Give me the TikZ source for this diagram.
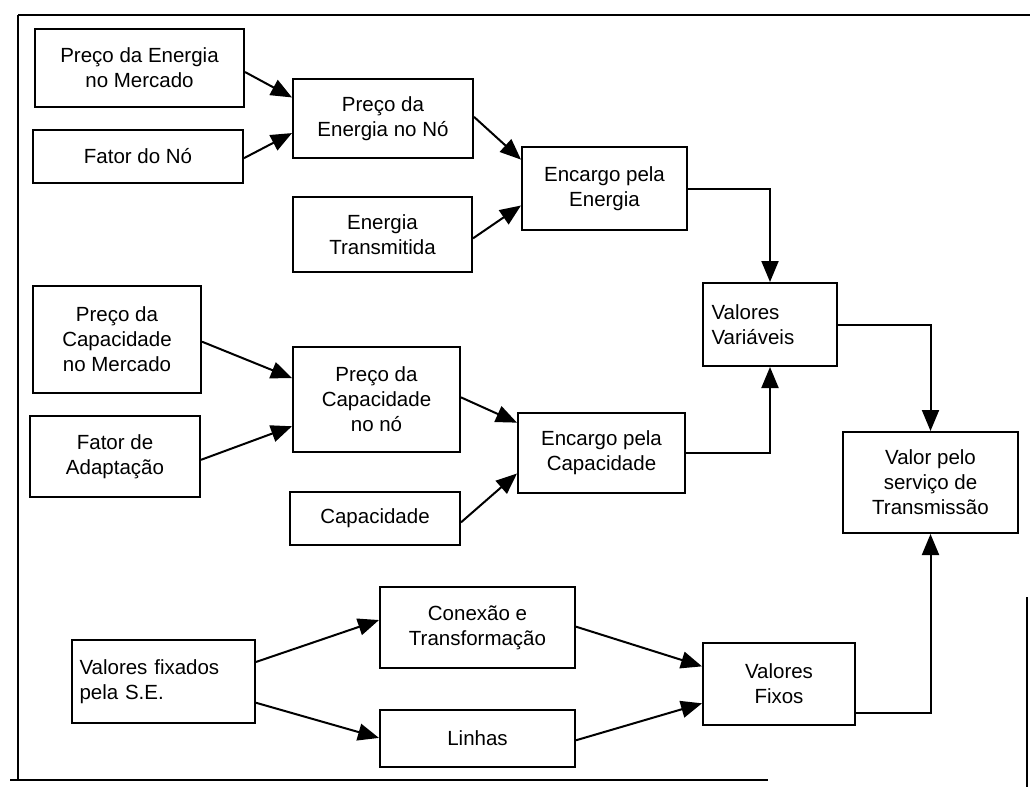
\documentclass[tikz,border=0pt]{standalone}
\usepackage{fontspec}
\setmainfont{Liberation Sans}
\usetikzlibrary{arrows.meta,calc}
\tikzset{
  box/.style={draw, line width=2pt, align=center, inner sep=0pt,
    font=\fontsize{20.5}{25}\selectfont},
  leftbox/.style={box, align=left, text width=#1},
  link/.style={line width=2pt, -{Triangle[length=21pt,width=17pt]}},
  frame/.style={line width=1.8pt},
}
\begin{document}
\begin{tikzpicture}[x=1pt, y=-1pt]
\useasboundingbox (0,0) rectangle (1030,792);

% outer frame
\draw[frame] (18,15) -- (1030,15);
\draw[frame] (18,15) -- (18,780);
\draw[frame] (10,780) -- (768,780);
\draw[frame] (1027,597) -- (1027,787);

% energy branch
\node[box, minimum width=209pt, minimum height=78pt] (pem) at (139.5,68) {Preço da Energia\\no Mercado};
\node[box, minimum width=210pt, minimum height=53pt] (fno) at (138,156.5) {Fator do Nó};
\node[box, minimum width=180pt, minimum height=79pt] (pen) at (383,118.5) {Preço da\\Energia no Nó};
\node[box, minimum width=179pt, minimum height=75pt] (etr) at (382.5,234.5) {Energia\\Transmitida};
\node[box, minimum width=165pt, minimum height=83pt] (ee) at (604.5,188.5) {Encargo pela\\Energia};

% capacity branch
\node[box, minimum width=168pt, minimum height=107pt] (pcm) at (117,339.5) {Preço da\\Capacidade\\no Mercado};
\node[box, minimum width=170pt, minimum height=81pt] (fad) at (115,456.5) {Fator de\\Adaptação};
\node[box, minimum width=167pt, minimum height=105pt] (pcn) at (376.5,399.5) {Preço da\\Capacidade\\no nó};
\node[box, minimum width=170pt, minimum height=53pt] (cap) at (375,518.5) {Capacidade};
\node[box, minimum width=167pt, minimum height=80pt] (ec) at (601.5,453) {Encargo pela\\Capacidade};

% totals
\node[leftbox=117pt, minimum width=134pt, minimum height=83pt] (vv) at (770,324.5) {Valores\\Variáveis};
\node[box, minimum width=175pt, minimum height=101pt] (vst) at (930.5,482.5) {Valor pelo\\serviço de\\Transmissão};

% fixed branch
\node[leftbox=168pt, minimum width=183pt, minimum height=83pt] (vfse) at (163.5,681.5) {Valores fixados\\pela S.E.};
\node[box, minimum width=195pt, minimum height=81pt] (cxt) at (477.5,627.5) {Conexão e\\Transformação};
\node[box, minimum width=195pt, minimum height=57pt] (lin) at (477.5,738.5) {Linhas};
\node[box, minimum width=152pt, minimum height=82pt] (vf) at (779,684) {Valores\\Fixos};

% connectors
\draw[link] ($(pem.north east)!0.55!(pem.south east)$) -- ($(pen.north west)!0.24!(pen.south west)$);
\draw[link] ($(fno.north east)!0.53!(fno.south east)$) -- ($(pen.north west)!0.68!(pen.south west)$);
\draw[link] ($(pen.north east)!0.48!(pen.south east)$) -- ($(ee.north west)!0.16!(ee.south west)$);
\draw[link] ($(etr.north east)!0.55!(etr.south east)$) -- ($(ee.north west)!0.70!(ee.south west)$);

\draw[link] ($(pcm.north east)!0.52!(pcm.south east)$) -- ($(pcn.north west)!0.30!(pcn.south west)$);
\draw[link] ($(fad.north east)!0.54!(fad.south east)$) -- ($(pcn.north west)!0.75!(pcn.south west)$);
\draw[link] ($(pcn.north east)!0.48!(pcn.south east)$) -- ($(ec.north west)!0.13!(ec.south west)$);
\draw[link] ($(cap.north east)!0.57!(cap.south east)$) -- ($(ec.north west)!0.75!(ec.south west)$);

\draw[link] (ee.east) -| (vv.north);
\draw[link] (ec.east) -| (vv.south);
\draw[link] (vv.east) -| (vst.north);

\draw[link] ($(vfse.north east)!0.27!(vfse.south east)$) -- ($(cxt.north west)!0.41!(cxt.south west)$);
\draw[link] ($(vfse.north east)!0.75!(vfse.south east)$) -- ($(lin.north west)!0.49!(lin.south west)$);
\draw[link] ($(cxt.north east)!0.49!(cxt.south east)$) -- ($(vf.north west)!0.29!(vf.south west)$);
\draw[link] ($(lin.north east)!0.53!(lin.south east)$) -- ($(vf.north west)!0.73!(vf.south west)$);
\draw[link] ($(vf.north east)!0.84!(vf.south east)$) -| (vst.south);
\end{tikzpicture}
\end{document}
